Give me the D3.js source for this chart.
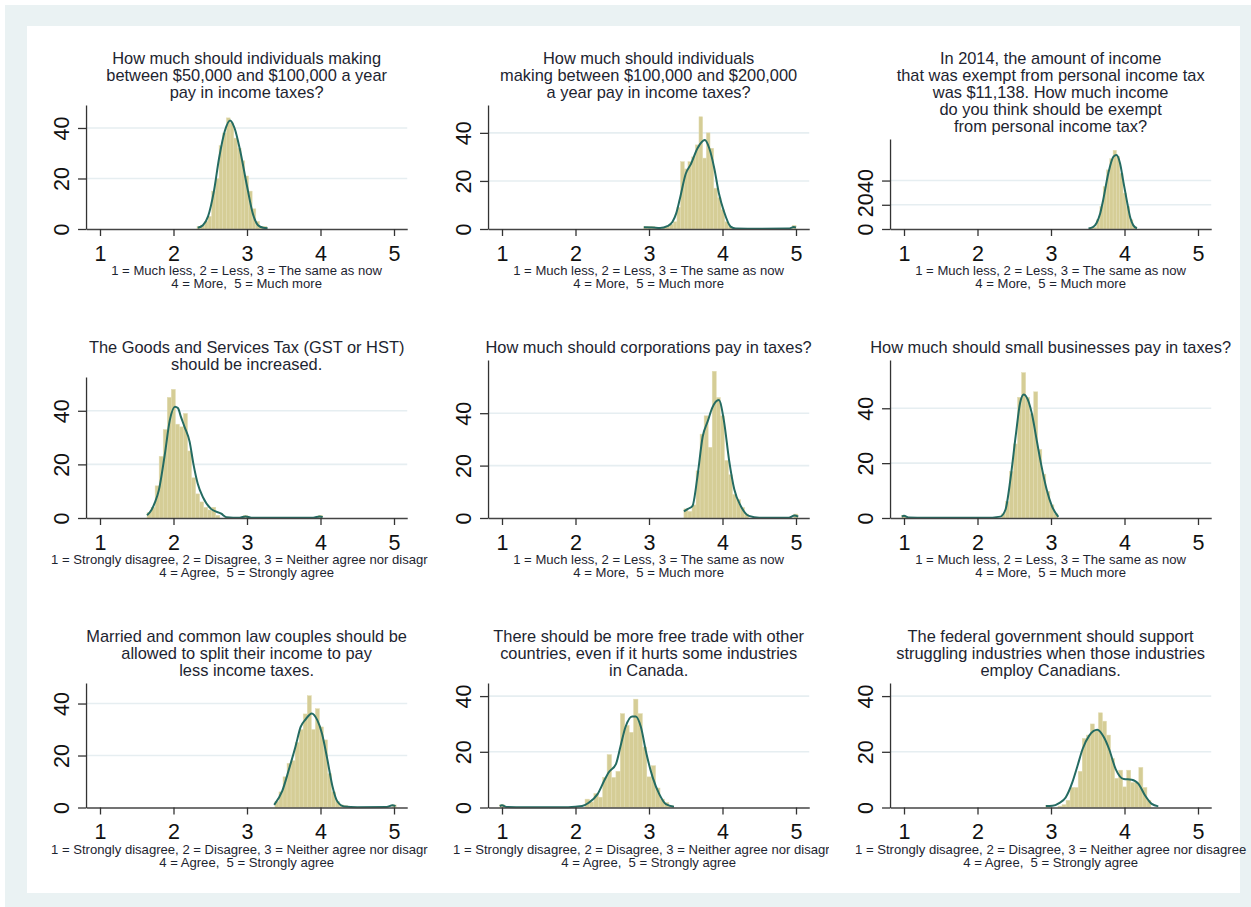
<!DOCTYPE html>
<html><head><meta charset="utf-8">
<script src="https://cdn.jsdelivr.net/npm/d3@7"></script>
<style>body{margin:0;background:#fff}svg{display:block}text{font-family:"Liberation Sans",Arial,sans-serif}</style>
</head><body><svg id="c" width="1251" height="907"></svg>
<script>
// ---------------- DATA ----------------
const xTicks = [1, 2, 3, 4, 5];
const yTicks = [0, 20, 40];
const xAxisRange = [0.81, 5.18];
const yAxisMax = [49.1, 51.6, 74.3, 52.6, 60.3, 57.6, 47.9, 44.7, 44.7];
const binWidths = [0.05, 0.05, 0.045, 0.055, 0.055, 0.055, 0.055, 0.06, 0.055];

const titles = [
  ["How much should individuals making", "between $50,000 and $100,000 a year", "pay in income taxes?"],
  ["How much should individuals", "making between $100,000 and $200,000", "a year pay in income taxes?"],
  ["In 2014, the amount of income", "that was exempt from personal income tax", "was $11,138. How much income", "do you think should be exempt", "from personal income tax?"],
  ["The Goods and Services Tax (GST or HST)", "should be increased."],
  ["How much should corporations pay in taxes?"],
  ["How much should small businesses pay in taxes?"],
  ["Married and common law couples should be", "allowed to split their income to pay", "less income taxes."],
  ["There should be more free trade with other", "countries, even if it hurts some industries", "in Canada."],
  ["The federal government should support", "struggling industries when those industries", "employ Canadians."]
];
const scaleAmount = ["1 = Much less, 2 = Less, 3 = The same as now", "4 = More,  5 = Much more"];
const scaleAgree = ["1 = Strongly disagree, 2 = Disagree, 3 = Neither agree nor disagree", "4 = Agree,  5 = Strongly agree"];
const panelScale = ["amount", "amount", "amount", "agree", "amount", "amount", "agree", "agree", "agree"];

// histogram bins: [left edge, frequency]
const hist1 = [[2.32,1],[2.37,1.5],[2.42,3],[2.47,5],[2.52,15],[2.57,20],[2.62,33],[2.67,38],[2.72,44],[2.77,42],[2.82,36],[2.87,32],[2.92,27],[2.97,21],[3.02,15],[3.07,8],[3.12,3],[3.17,1],[3.22,1]];
const hist2 = [[2.93,1],[2.98,1],[3.03,1],[3.08,0.7],[3.18,0.7],[3.23,1.2],[3.28,2],[3.33,3],[3.38,9],[3.43,28],[3.48,25],[3.53,28],[3.58,30],[3.63,35],[3.68,46.7],[3.73,29.5],[3.78,40],[3.83,33.6],[3.88,17],[3.93,13],[3.98,8],[4.03,3],[4.08,1],[4.95,1.5]];
const hist3 = [[3.53,1],[3.575,1.5],[3.62,7.6],[3.665,18.6],[3.71,35],[3.755,48.8],[3.80,58],[3.845,65],[3.89,60],[3.935,46],[3.98,29.6],[4.025,18.6],[4.07,7.6],[4.115,2]];
const hist4 = [[1.64,2],[1.695,4],[1.75,12],[1.805,23],[1.86,33],[1.915,45],[1.97,48],[2.025,35],[2.08,34],[2.135,39],[2.19,25],[2.245,15],[2.30,9],[2.355,6],[2.41,4],[2.465,3],[2.52,4],[2.575,1],[2.955,1],[3.97,1]];
const hist5 = [[3.475,3.5],[3.53,2.5],[3.585,5],[3.64,18],[3.695,32],[3.75,39],[3.805,27],[3.86,56],[3.915,46],[3.97,39],[4.025,22],[4.08,16.5],[4.135,9],[4.19,7],[4.245,4],[4.30,1.5],[4.97,1.5]];
const hist6 = [[0.97,1],[2.325,1.5],[2.38,6],[2.435,17],[2.49,27],[2.545,44],[2.60,53],[2.655,44],[2.71,38],[2.765,46],[2.82,25],[2.875,16],[2.93,9.7],[2.985,4.8],[3.04,1.5]];
const hist7 = [[3.38,2.3],[3.435,6],[3.49,11.8],[3.545,17],[3.60,18],[3.655,25],[3.71,30],[3.765,36],[3.82,43],[3.875,30],[3.93,38],[3.985,31],[4.04,26],[4.095,13],[4.15,6],[4.205,2.3],[4.26,1],[4.315,0.8],[4.975,1]];
const hist8 = [[0.97,1],[2.13,3],[2.19,2],[2.25,5],[2.31,3.7],[2.37,10.8],[2.43,19],[2.49,10.8],[2.55,13],[2.61,33.7],[2.67,29.5],[2.73,27],[2.79,38.9],[2.85,33.7],[2.91,21.7],[2.97,11],[3.03,15],[3.09,7],[3.15,3],[3.21,1.8],[3.27,0.6]];
const hist9 = [[2.93,0.8],[3.095,0.5],[3.15,1],[3.205,2.6],[3.26,7.2],[3.315,7.2],[3.37,13],[3.425,24.8],[3.48,26],[3.535,30],[3.59,27.6],[3.645,34],[3.70,31],[3.755,26],[3.81,17.6],[3.865,10.5],[3.92,13.4],[3.975,7.4],[4.03,13.4],[4.085,9],[4.14,9],[4.195,14.4],[4.25,7.2],[4.305,2.6]];

// kernel density curves (scaled to frequency): [x, y]
const dens1 = [[2.33,0.5],[2.40,1.5],[2.47,5],[2.55,15],[2.62,28],[2.70,39],[2.77,43],[2.83,40],[2.90,32],[3.00,17],[3.08,6],[3.15,1.5],[3.22,0.5],[3.28,0.3]];
const dens2 = [[2.93,0.7],[3.05,0.6],[3.15,0.4],[3.25,1.2],[3.32,3],[3.37,6.5],[3.42,12.6],[3.50,23],[3.57,27],[3.66,33.6],[3.76,37],[3.82,33.6],[3.89,25],[3.95,15],[4.02,7.3],[4.11,1],[4.18,0.2],[4.5,0.1],[4.9,0.2],[4.97,0.8],[5.0,0.6]];
const dens3 = [[3.51,0.5],[3.57,1.5],[3.62,5],[3.67,13],[3.71,24],[3.78,46],[3.85,59.7],[3.89,61],[3.94,54],[3.98,40.6],[4.03,24],[4.08,9],[4.12,3],[4.17,0.5]];
const dens4 = [[1.64,1],[1.70,3],[1.75,6],[1.80,10.3],[1.88,23.4],[1.95,36.5],[2.02,41.5],[2.06,41],[2.10,37.8],[2.15,34],[2.22,28.4],[2.27,20.3],[2.33,12.8],[2.40,7.8],[2.51,3.4],[2.65,1.6],[2.72,0.3],[2.9,0.1],[2.98,0.6],[3.06,0.1],[3.9,0.1],[3.99,0.6],[4.03,0.3]];
const dens5 = [[3.475,2.5],[3.53,3.5],[3.59,4.5],[3.66,16],[3.73,31],[3.80,37],[3.86,42],[3.95,45],[4.02,37],[4.09,22],[4.16,11],[4.25,4.5],[4.36,0.8],[4.5,0.1],[4.9,0.1],[4.98,1],[5.03,0.5]];
const dens6 = [[0.97,0.5],[1.0,0.8],[1.06,0.2],[1.3,0.05],[2.1,0.05],[2.31,0.5],[2.38,3],[2.45,14.5],[2.52,30],[2.58,42],[2.63,45],[2.70,42],[2.74,38],[2.81,27.7],[2.87,19],[2.94,10.5],[3.01,4.5],[3.10,0.4]];
const dens7 = [[3.37,1],[3.48,6.4],[3.57,14.6],[3.66,23.5],[3.73,31],[3.80,34],[3.88,36.2],[3.955,33.7],[4.02,28.5],[4.09,19],[4.16,8.5],[4.23,2.3],[4.32,0.4],[4.5,0.1],[4.9,0.2],[4.98,0.9],[5.02,0.5]];
const dens8 = [[0.97,0.5],[1.0,0.8],[1.06,0.2],[1.3,0.05],[1.9,0.1],[2.09,0.5],[2.18,1.7],[2.30,4.8],[2.39,9.6],[2.45,12.6],[2.55,15.6],[2.61,21.7],[2.68,28.9],[2.77,32.7],[2.82,32.7],[2.89,28.9],[2.96,19.9],[3.05,10.8],[3.14,4.8],[3.23,1.2],[3.34,0.3]];
const dens9 = [[2.93,0.5],[3.02,0.6],[3.11,1.6],[3.20,3.6],[3.29,9],[3.36,14.9],[3.43,21],[3.52,25.8],[3.63,27.9],[3.72,25.2],[3.79,21],[3.88,13.8],[3.99,10.2],[4.10,10],[4.19,8.5],[4.28,4.3],[4.37,1.3],[4.46,0.4]];

const hists = [hist1, hist2, hist3, hist4, hist5, hist6, hist7, hist8, hist9];
const denss = [dens1, dens2, dens3, dens4, dens5, dens6, dens7, dens8, dens9];

// ---------------- LAYOUT / STYLE ----------------
const W = 1251, H = 907;
const BG = "#eaf2f3", BAR = "#d5cd96", BAR_LINE = "#e2dcb2", CURVE = "#246b62", GRID = "#e6eef1";
const FONT = "Liberation Sans, Arial, sans-serif";
const colV1 = c => 100 + 402 * c;       // pixel of value 1
const pxPerUnit = 73.5;
const rowBase = [229, 518, 807.5];
const rowTitle = [64, 353, 642];
const plotTop = [105, 105, 139, 377, 360, 360, 683, 683, 683];

const svg = d3.select("#c");
svg.append("rect").attr("width", W).attr("height", H).attr("fill", "#fff");
svg.append("rect").attr("x", 5).attr("y", 5).attr("width", W - 5).attr("height", H - 5).attr("fill", BG);
svg.append("rect").attr("x", 27).attr("y", 26).attr("width", 1213).attr("height", 867).attr("fill", "#fff");

const defs = svg.append("defs");
[0, 1].forEach(c => {
  defs.append("clipPath").attr("id", "clipc" + c)
    .append("rect").attr("x", 27 + 401 * c).attr("y", 0).attr("width", 401).attr("height", H);
});

for (let i = 0; i < 9; i++) {
  const c = i % 3, r = Math.floor(i / 3);
  const base = rowBase[r];
  const v1 = colV1(c);
  const x = d3.scaleLinear().domain(xAxisRange)
    .range([v1 + (xAxisRange[0] - 1) * pxPerUnit, v1 + (xAxisRange[1] - 1) * pxPerUnit]);
  const y = d3.scaleLinear().domain([0, yAxisMax[i]]).range([base, plotTop[i]]);
  const [L, R] = x.range();
  const g = svg.append("g");

  // gridlines
  g.selectAll(".grid").data(yTicks.filter(d => d > 0)).join("line")
    .attr("x1", L).attr("x2", R).attr("y1", d => y(d)).attr("y2", d => y(d))
    .attr("stroke", GRID).attr("stroke-width", 1.6);

  // bars
  const w = binWidths[i];
  g.selectAll(".bar").data(hists[i]).join("rect")
    .attr("x", d => x(d[0])).attr("width", d => x(d[0] + w) - x(d[0]))
    .attr("y", d => y(d[1])).attr("height", d => base - y(d[1]))
    .attr("fill", BAR).attr("stroke", BAR_LINE).attr("stroke-width", 0.5);

  // density curve
  const line = d3.line().x(d => x(d[0])).y(d => y(d[1])).curve(d3.curveMonotoneX);
  g.append("path").attr("d", line(denss[i])).attr("fill", "none")
    .attr("stroke", CURVE).attr("stroke-width", 2).attr("stroke-linejoin", "round");

  // x axis
  const xa = g.append("g").attr("transform", `translate(0,${base})`)
    .call(d3.axisBottom(x).tickValues(xTicks).tickSize(7).tickSizeOuter(0).tickFormat(d3.format("d")));
  xa.select(".domain").attr("stroke", "#444").attr("stroke-width", 1.3);
  xa.selectAll(".tick line").attr("stroke", "#333").attr("stroke-width", 1.3);
  xa.selectAll(".tick text").attr("y", 31.5).attr("dy", null)
    .attr("font-size", 21.5).attr("fill", "#111").attr("font-family", FONT);

  // y axis
  const ya = g.append("g").attr("transform", `translate(${L},0)`)
    .call(d3.axisLeft(y).tickValues(yTicks).tickSize(8).tickSizeOuter(0).tickFormat(d3.format("d")));
  ya.select(".domain").attr("stroke", "#333").attr("stroke-width", 1.3);
  ya.selectAll(".tick line").attr("stroke", "#333").attr("stroke-width", 1.3);
  ya.selectAll(".tick text").attr("x", null).attr("dy", null).attr("text-anchor", "middle")
    .attr("transform", "translate(-17,0) rotate(-90)")
    .attr("font-size", 21.5).attr("fill", "#111").attr("font-family", FONT);

  // title
  const cx = (L + R) / 2;
  g.append("text").attr("text-anchor", "middle").attr("font-size", 16.4).attr("fill", "#1d2430")
    .selectAll("tspan").data(titles[i]).join("tspan")
    .attr("x", cx).attr("y", (d, k) => rowTitle[r] + k * 17).text(d => d);

  // x axis note
  const note = panelScale[i] === "amount" ? scaleAmount : scaleAgree;
  const nt = g.append("text").attr("text-anchor", "middle").attr("font-size", 13.1).attr("fill", "#1d2430")
    .style("white-space", "pre");
  if (c < 2) nt.attr("clip-path", `url(#clipc${c})`);
  nt.selectAll("tspan").data(note).join("tspan")
    .attr("x", cx).attr("y", (d, k) => base + 46 + k * 13).text(d => d);
}
</script>
</body></html>
